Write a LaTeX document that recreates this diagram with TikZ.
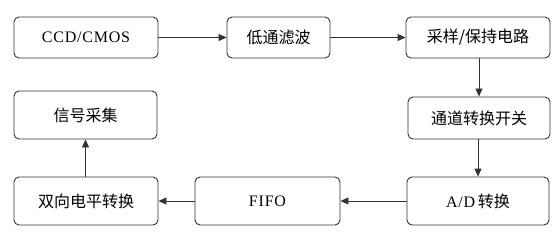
\documentclass[tikz,border=0pt]{standalone}
\usepackage{fontspec}
\setmainfont{Liberation Serif}[LetterSpace=5]
\newfontfamily\cjk{Noto Sans CJK SC}
\usetikzlibrary{arrows.meta}
\begin{document}
\begin{tikzpicture}[x=1pt,y=1pt,
  box/.style={draw=black!80,line width=0.9pt,rounded corners=5pt,inner sep=0pt,font=\fontsize{16}{18}\selectfont},
  conn/.style={draw=black!80,line width=0.9pt,-{Triangle[length=8pt,width=7pt]}}]
\useasboundingbox (0,0) rectangle (560,236);
\newcommand{\bx}[6]{\node[box,minimum width=#4-#2,minimum height=#5-#3] (#1) at ({(#2+#4)/2},{236-(#3+#5)/2}) {#6};}
\bx{ccd}{14}{17}{158}{58}{CCD/CMOS}
\bx{lp}{227}{17}{330}{58}{\cjk 低通滤波}
\bx{sh}{406}{17}{550}{58}{\cjk 采样/保持电路}
\bx{ch}{408}{97}{550}{139}{\cjk 通道转换开关}
\bx{sig}{14}{91}{157}{139}{\cjk 信号采集}
\bx{lv}{14}{177}{158}{225}{\cjk 双向电平转换}
\bx{fifo}{195}{177}{340}{225}{FIFO}
\bx{ad}{407}{177}{549}{225}{A/D\,{\cjk 转换}}
\draw[conn] (ccd) -- (lp);
\draw[conn] (lp) -- (sh);
\draw[conn] (sh.south -| ch.north) -- (ch.north);
\draw[conn] (ch.south -| ad.north) -- (ad.north);
\draw[conn] (ad) -- (fifo);
\draw[conn] (fifo) -- (lv);
\draw[conn] (lv.north -| sig.south) -- (sig.south);
\end{tikzpicture}
\end{document}
